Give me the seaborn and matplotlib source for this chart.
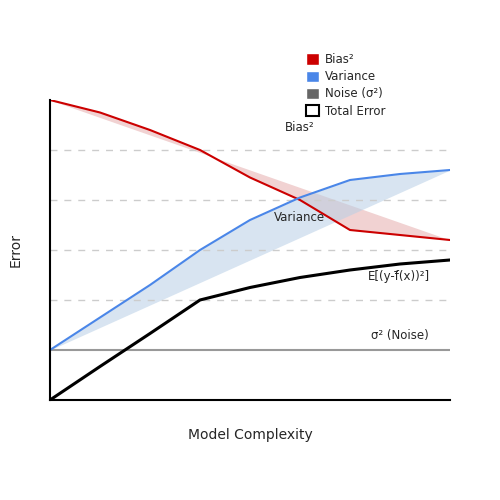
import matplotlib
matplotlib.use("Agg")
import matplotlib.pyplot as plt
import seaborn as sns
import numpy as np
import pandas as pd
from matplotlib.patches import Patch

complexity = [0, 0.5, 1, 1.5, 2, 2.5, 3, 3.5, 4]
bias_sq = [6.0, 5.75, 5.4, 5.0, 4.45, 4.0, 3.4, 3.3, 3.2]
variance = [1.0, 1.65, 2.3, 3.0, 3.6, 4.05, 4.4, 4.52, 4.6]
total = [0.0, 0.67, 1.33, 2.0, 2.25, 2.45, 2.6, 2.72, 2.8]
noise = 1.0
grid_levels = [2, 3, 4, 5]

sns.set_theme(style="white")
plt.rcParams['font.family'] = ['DejaVu Sans']
fig = plt.figure(figsize=(5, 5), dpi=100)
ax = fig.add_axes([0.1, 0.2, 0.8, 0.6])

x = np.array(complexity)
b = np.array(bias_sq); v = np.array(variance)
bl = b[0] + (b[-1] - b[0]) * (x - x[0]) / (x[-1] - x[0])
vl = v[0] + (v[-1] - v[0]) * (x - x[0]) / (x[-1] - x[0])
ax.fill_between(x, b, bl, color="#e8b4b4", alpha=0.6, lw=0)
ax.fill_between(x, v, vl, color="#b8cfe6", alpha=0.55, lw=0)

for g in grid_levels:
    ax.axhline(g, color="#cccccc", ls=(0, (5, 5)), lw=1)
ax.axhline(noise, color="#999999", lw=1.5)

df = pd.DataFrame({"x": complexity, "bias": bias_sq, "var": variance, "tot": total})
sns.lineplot(data=df, x="x", y="bias", color="#cc0000", lw=1.5, ax=ax)
sns.lineplot(data=df, x="x", y="var", color="#4a86e8", lw=1.5, ax=ax)
sns.lineplot(data=df, x="x", y="tot", color="black", lw=2.2, ax=ax)

ax.text(2.35, 5.45, "Bias²", fontsize=8.5, va="center")
ax.text(2.24, 3.65, "Variance", fontsize=8.5, va="center")
ax.text(3.18, 2.47, "E[(y-f̄(x))²]", fontsize=8.5, va="center")
ax.text(3.21, 1.28, "σ² (Noise)", fontsize=8.5, va="center")

ax.set_xlim(0, 4); ax.set_ylim(0, 6)
ax.set_xticks([]); ax.set_yticks([])
for s in ["top", "right"]:
    ax.spines[s].set_visible(False)
for s in ["left", "bottom"]:
    ax.spines[s].set_color("black"); ax.spines[s].set_linewidth(1.5)
ax.set_xlabel("Model Complexity", fontsize=10, labelpad=20)
ax.set_ylabel("Error", fontsize=10, labelpad=20)

handles = [Patch(facecolor="#cc0000", label="Bias²"),
           Patch(facecolor="#4a86e8", label="Variance"),
           Patch(facecolor="#666666", label="Noise (σ²)"),
           Patch(facecolor="white", edgecolor="black", lw=1.5, label="Total Error")]
fig.legend(handles=handles, loc="upper left", bbox_to_anchor=(0.59, 0.915), frameon=False,
           fontsize=8.5, handlelength=1.1, handleheight=1.1, handletextpad=0.5, labelspacing=0.35)
fig.savefig("out.png", dpi=100, facecolor="white")
